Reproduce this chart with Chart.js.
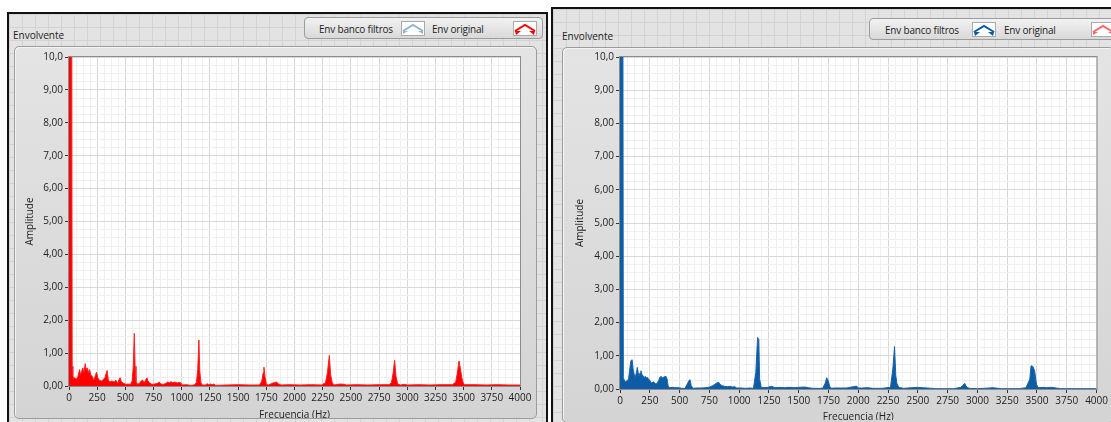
<!DOCTYPE html>
<html>
<head>
<meta charset="utf-8">
<script src="https://cdn.jsdelivr.net/npm/chart.js@4.4.1/dist/chart.umd.min.js"></script>
<style>
  body { margin: 0; width: 1111px; height: 422px; overflow: hidden; background: #fff; position: relative;
         font-family: "Open Sans", "Noto Sans", sans-serif; font-size: 10px; color: #222; }
  .panel { position: absolute; box-sizing: border-box; border: 2px solid #111; border-bottom: none;
           background-color: #e3e3e3;
           background-image: linear-gradient(#d3d3d3 1px, transparent 1px), linear-gradient(90deg, #d3d3d3 1px, transparent 1px);
           background-size: 13px 13px; }
  .title { position: absolute; font-size: 10px; }
  .frame { position: absolute; box-sizing: border-box; border: 1px solid #9c9c9c; border-radius: 5px;
           background: linear-gradient(#e4e4e4, #d4d4d4); box-shadow: inset 1px 1px 0 #f4f4f4; }
  .legend { position: absolute; box-sizing: border-box; height: 22px; border: 1px solid #9c9c9c; border-radius: 4px;
            background: linear-gradient(#f2f2f2, #d9d9d9); }
  .legend span { position: absolute; top: 4px; white-space: nowrap; letter-spacing: -0.2px; }
  .legend svg { position: absolute; top: 3px; }
  canvas { position: absolute; }
</style>
</head>
<body>

<div class="panel" style="left:7px; top:12px; width:541px; height:410px;"></div>
<div class="panel" style="left:551px; top:7px; width:565px; height:415px; border-right:none;"></div>

<div class="title" style="left:13px; top:28px;">Envolvente</div>
<div class="title" style="left:562px; top:29px;">Envolvente</div>

<div class="legend" style="left:304px; top:17px; width:239px;">
  <span style="left:14px;">Env banco filtros</span>
  <svg style="left:96px;" width="24" height="15"><rect x="0.5" y="0.5" width="23" height="14" fill="#fff" stroke="#aaa"/>
    <polyline points="2,10 12,4 22,10" fill="none" stroke="#8fb4d6" stroke-width="2"/>
    <polygon points="2,10 7,10 2,13" fill="#8fb4d6"/><polygon points="17,10 22,10 22,13" fill="#8fb4d6"/></svg>
  <span style="left:127px;">Env original</span>
  <svg style="left:208px;" width="24" height="15"><rect x="0.5" y="0.5" width="23" height="14" fill="#fff" stroke="#aaa"/>
    <polyline points="2,10 12,4 22,10" fill="none" stroke="#f00" stroke-width="2"/>
    <polygon points="2,10 8,10 3,14" fill="#f00"/><polygon points="16,10 22,10 21,14" fill="#f00"/></svg>
</div>

<div class="legend" style="left:869px; top:18px; width:250px;">
  <span style="left:15px;">Env banco filtros</span>
  <svg style="left:102px;" width="24" height="15"><rect x="0.5" y="0.5" width="23" height="14" fill="#fff" stroke="#aaa"/>
    <polyline points="2,10 12,4 22,10" fill="none" stroke="#0b5aa2" stroke-width="2"/>
    <polygon points="2,10 8,10 3,14" fill="#0b5aa2"/><polygon points="16,10 22,10 21,14" fill="#0b5aa2"/></svg>
  <span style="left:134px;">Env original</span>
  <svg style="left:221px;" width="24" height="15"><rect x="0.5" y="0.5" width="23" height="14" fill="#fff" stroke="#aaa"/>
    <polyline points="2,10 12,4 22,10" fill="none" stroke="#f66" stroke-width="2"/>
    <polygon points="2,10 7,10 2,13" fill="#f66"/><polygon points="17,10 22,10 22,13" fill="#f66"/></svg>
</div>

<div class="frame" style="left:14px; top:46px; width:523px; height:373px;"></div>
<div class="frame" style="left:562px; top:47px; width:552px; height:376px;"></div>

<canvas id="chartOriginal" style="left:14px; top:46px;"></canvas>
<canvas id="chartFiltros" style="left:562px; top:47px;"></canvas>

<script>
// Env original (red), frequency in Hz / amplitude
const origFreq = [0, 24, 28, 34, 40, 50, 65, 80, 94, 102, 110, 123, 132, 144, 152, 162, 172, 182, 192, 205,
  220, 232, 244, 255, 268, 285, 300, 318, 338, 348, 360, 380, 403, 415, 430, 445, 453, 465, 485, 505,
  525, 545, 560, 570, 579, 586, 594, 608, 625, 640, 653, 665, 680, 691, 700, 715, 735, 760, 785, 800,
  815, 840, 860, 875, 890, 905, 920, 940, 960, 975, 990, 1005, 1040, 1080, 1110, 1130, 1142, 1152, 1160, 1170,
  1182, 1210, 1226, 1240, 1255, 1270, 1285, 1300, 1400, 1500, 1600, 1690, 1710, 1722, 1729, 1738, 1750, 1770, 1800, 1820,
  1840, 1860, 1880, 1950, 2050, 2150, 2240, 2275, 2292, 2309, 2320, 2335, 2350, 2383, 2410, 2442, 2460, 2550, 2650, 2750,
  2840, 2860, 2875, 2888, 2900, 2915, 2940, 2974, 3000, 3100, 3200, 3300, 3400, 3430, 3442, 3459, 3475, 3490, 3505, 3600,
  3700, 3800, 3900, 4000];
const origAmp = [12, 12, 0.6, 0.35, 0.22, 0.25, 0.2, 0.3, 0.5, 0.35, 0.42, 0.55, 0.4, 0.68, 0.5, 0.55, 0.4, 0.5, 0.35, 0.3,
  0.18, 0.3, 0.42, 0.25, 0.18, 0.15, 0.18, 0.25, 0.47, 0.2, 0.12, 0.15, 0.12, 0.18, 0.08, 0.2, 0.25, 0.12, 0.08, 0.05,
  0.06, 0.05, 0.15, 0.6, 1.6, 0.6, 0.15, 0.05, 0.08, 0.15, 0.18, 0.1, 0.18, 0.25, 0.15, 0.1, 0.05, 0.06, 0.08, 0.12,
  0.06, 0.05, 0.08, 0.12, 0.1, 0.13, 0.1, 0.12, 0.09, 0.11, 0.1, 0.03, 0.04, 0.02, 0.03, 0.1, 0.5, 1.4, 0.45, 0.1,
  0.03, 0.03, 0.07, 0.04, 0.06, 0.04, 0.06, 0.02, 0.03, 0.04, 0.03, 0.03, 0.15, 0.4, 0.57, 0.3, 0.05, 0.03, 0.08, 0.1,
  0.12, 0.06, 0.03, 0.04, 0.03, 0.04, 0.03, 0.1, 0.4, 0.93, 0.35, 0.1, 0.03, 0.05, 0.06, 0.05, 0.03, 0.04, 0.03, 0.04,
  0.04, 0.1, 0.4, 0.78, 0.3, 0.06, 0.03, 0.05, 0.03, 0.04, 0.03, 0.04, 0.04, 0.12, 0.35, 0.76, 0.45, 0.15, 0.04, 0.04,
  0.03, 0.04, 0.03, 0.03];

// Env banco filtros (blue)
const filtFreq = [0, 24, 28, 34, 45, 60, 72, 82, 91, 102, 110, 118, 128, 138, 145, 152, 160, 168, 176, 185,
  195, 205, 213, 222, 232, 240, 247, 258, 268, 281, 292, 303, 315, 324, 334, 346, 357, 368, 386, 395,
  404, 412, 437, 460, 494, 520, 545, 565, 578, 588, 598, 612, 640, 680, 720, 755, 778, 795, 812, 829,
  845, 860, 877, 900, 920, 945, 963, 980, 1020, 1050, 1090, 1120, 1140, 1155, 1165, 1172, 1185, 1210, 1240, 1275,
  1300, 1340, 1380, 1420, 1460, 1500, 1550, 1580, 1620, 1700, 1720, 1735, 1748, 1760, 1775, 1800, 1850, 1900, 1930, 1960,
  1985, 2000, 2030, 2080, 2120, 2200, 2270, 2290, 2304, 2315, 2325, 2340, 2380, 2450, 2500, 2540, 2580, 2650, 2800, 2860,
  2875, 2893, 2910, 2930, 3000, 3100, 3130, 3150, 3200, 3350, 3408, 3440, 3450, 3465, 3480, 3495, 3510, 3550, 3580, 3620,
  3660, 3700, 4000];
const filtAmp = [12, 12, 0.35, 0.28, 0.22, 0.25, 0.3, 0.6, 0.85, 0.88, 0.6, 0.45, 0.35, 0.5, 0.65, 0.5, 0.4, 0.48, 0.55, 0.42,
  0.4, 0.35, 0.38, 0.33, 0.35, 0.28, 0.28, 0.2, 0.18, 0.22, 0.18, 0.14, 0.2, 0.25, 0.35, 0.38, 0.33, 0.36, 0.38, 0.3,
  0.1, 0.04, 0.05, 0.04, 0.04, 0.02, 0.02, 0.15, 0.25, 0.28, 0.1, 0.02, 0.03, 0.03, 0.04, 0.06, 0.1, 0.14, 0.18, 0.2,
  0.12, 0.1, 0.08, 0.07, 0.08, 0.06, 0.07, 0.03, 0.03, 0.02, 0.03, 0.02, 0.5, 1.55, 1.5, 0.3, 0.05, 0.04, 0.05, 0.08,
  0.04, 0.05, 0.04, 0.05, 0.04, 0.05, 0.06, 0.04, 0.02, 0.02, 0.15, 0.34, 0.25, 0.08, 0.02, 0.03, 0.03, 0.03, 0.05, 0.07,
  0.09, 0.03, 0.03, 0.04, 0.02, 0.02, 0.05, 0.6, 1.28, 0.4, 0.15, 0.05, 0.02, 0.04, 0.05, 0.04, 0.03, 0.01, 0.01, 0.05,
  0.1, 0.17, 0.06, 0.02, 0.01, 0.03, 0.04, 0.03, 0.01, 0.01, 0.04, 0.3, 0.7, 0.68, 0.55, 0.15, 0.04, 0.05, 0.04, 0.05,
  0.03, 0.01, 0.01];

const xTicks = [0, 250, 500, 750, 1000, 1250, 1500, 1750, 2000, 2250, 2500, 2750, 3000, 3250, 3500, 3750, 4000];
const yTicks = [0, 1, 2, 3, 4, 5, 6, 7, 8, 9, 10];

Chart.defaults.font.family = '"Open Sans", "Noto Sans", sans-serif';
Chart.defaults.font.size = 10;
Chart.defaults.color = '#222';

// white plot area + thin border, like the LabVIEW graph
const plotBox = {
    id: 'plotBox',
    beforeDraw(chart) {
        const a = chart.chartArea, c = chart.ctx;
        c.save();
        c.fillStyle = '#fff';
        c.fillRect(a.left, a.top, a.right - a.left, a.bottom - a.top);
        c.restore();
    },
    afterDraw(chart) {
        const a = chart.chartArea, c = chart.ctx;
        c.save();
        c.strokeStyle = '#8c8c8c';
        c.lineWidth = 1;
        c.strokeRect(a.left - 0.5, a.top - 0.5, a.right - a.left + 1, a.bottom - a.top + 1);
        c.restore();
    }
};

function makeChart(id, w, h, freq, amp, fillColor, lineColor, pad, yWidth, xHeight) {
    const cv = document.getElementById(id);
    cv.width = w; cv.height = h;
    cv.style.width = w + 'px'; cv.style.height = h + 'px';
    const pts = freq.map((f, i) => ({ x: f, y: amp[i] }));
    return new Chart(cv, {
        type: 'line',
        data: {
            datasets: [{
                data: pts,
                borderColor: lineColor,
                backgroundColor: fillColor,
                borderWidth: 1,
                pointRadius: 0,
                fill: 'origin',
                tension: 0
            }]
        },
        plugins: [plotBox],
        options: {
            responsive: false,
            animation: false,
            layout: { padding: pad },
            plugins: { legend: { display: false }, tooltip: { enabled: false } },
            scales: {
                x: {
                    type: 'linear', min: 0, max: 4000,
                    afterFit: s => { s.height = xHeight; },
                    afterBuildTicks: s => {
                        const t = [];
                        for (let v = 0; v <= 4000; v += 62.5) t.push({ value: v });
                        s.ticks = t;
                    },
                    ticks: {
                        autoSkip: false, maxRotation: 0, padding: 2,
                        callback: v => xTicks.includes(v) ? String(v) : ''
                    },
                    grid: {
                        color: c => xTicks.includes(c.tick.value) ? '#d8d8d8' : '#f0f0f0',
                        tickColor: c => xTicks.includes(c.tick.value) ? '#333' : 'rgba(0,0,0,0)',
                        tickLength: 4
                    },
                    border: { display: false },
                    title: { display: true, text: 'Frecuencia (Hz)', padding: { top: 2, bottom: -3 } }
                },
                y: {
                    min: 0, max: 10,
                    afterFit: s => { s.width = yWidth; },
                    afterBuildTicks: s => {
                        const t = [];
                        for (let v = 0; v <= 10; v += 0.25) t.push({ value: v });
                        s.ticks = t;
                    },
                    ticks: {
                        autoSkip: false, padding: 2,
                        callback: v => yTicks.includes(v) ? (v === 10 ? '10,0' : v.toFixed(2).replace('.', ',')) : ''
                    },
                    grid: {
                        color: c => yTicks.includes(c.tick.value) ? '#d8d8d8' : '#f0f0f0',
                        tickColor: c => yTicks.includes(c.tick.value) ? '#333' : 'rgba(0,0,0,0)',
                        tickLength: 4
                    },
                    border: { display: false },
                    title: { display: true, text: 'Amplitude', padding: { top: 6, bottom: 4 } }
                }
            }
        }
    });
}

makeChart('chartOriginal', 522, 372, origFreq, origAmp, '#ff0000', '#ff2020',
    { left: 4, right: 16, top: 11, bottom: 0 }, 51, 32);
makeChart('chartFiltros', 548, 373, filtFreq, filtAmp, '#0c5da6', '#1a64a8',
    { left: 6, right: 13, top: 10, bottom: 0 }, 52, 31);
</script>
</body>
</html>
